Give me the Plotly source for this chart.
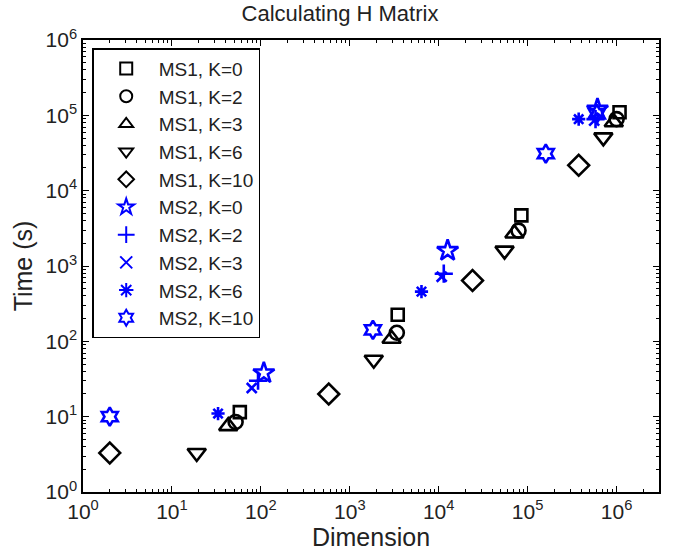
import plotly.graph_objects as go
import numpy as np

# ---- data ----
ms1_k0_x = [58, 3460, 85000, 1.08e6]
ms1_k0_y = [11.5, 225, 4700, 110000]
ms1_k2_x = [52, 3380, 79000, 1.0e6]
ms1_k2_y = [8.5, 130, 2950, 89000]
ms1_k3_x = [43, 2950, 71000, 930000]
ms1_k3_y = [7.5, 108, 2700, 81000]
ms1_k6_x = [19, 1860, 55000, 710000]
ms1_k6_y = [3.3, 57, 1600, 51000]
ms1_k10_x = [2, 580, 24000, 375000]
ms1_k10_y = [3.3, 20, 640, 21700]
ms2_k0_x = [108, 12600, 610000]
ms2_k0_y = [38, 1600, 120000]
ms2_k2_x = [93, 11400, 580000]
ms2_k2_y = [30, 790, 89000]
ms2_k3_x = [79, 10800, 560000]
ms2_k3_y = [24, 720, 85000]
ms2_k6_x = [33, 6400, 375000]
ms2_k6_y = [11, 457, 89000]
ms2_k10_x = [2, 1820, 160000, 600000]
ms2_k10_y = [10, 142, 31000, 105000]

series = [
    ("MS1, K=0", ms1_k0_x, ms1_k0_y, "square-open", "black", 12),
    ("MS1, K=2", ms1_k2_x, ms1_k2_y, "circle-open", "black", 14),
    ("MS1, K=3", ms1_k3_x, ms1_k3_y, "triangle-up-open", "black", 16),
    ("MS1, K=6", ms1_k6_x, ms1_k6_y, "triangle-down-open", "black", 16),
    ("MS1, K=10", ms1_k10_x, ms1_k10_y, "diamond-open", "black", 16),
    ("MS2, K=0", ms2_k0_x, ms2_k0_y, "star-open", "blue", 16),
    ("MS2, K=2", ms2_k2_x, ms2_k2_y, "cross-thin-open", "blue", 13),
    ("MS2, K=3", ms2_k3_x, ms2_k3_y, "x-thin-open", "blue", 10),
    ("MS2, K=6", ms2_k6_x, ms2_k6_y, "asterisk-open", "blue", 11),
    ("MS2, K=10", ms2_k10_x, ms2_k10_y, "hexagram-open", "blue", 14),
]

FONT = "Liberation Sans, Arial, sans-serif"

fig = go.Figure()
for name, x, y, sym, col, sz in series:
    fig.add_trace(go.Scatter(
        x=x, y=y, mode="markers", name=name,
        marker=dict(symbol=sym, size=sz, color=col,
                    line=dict(color=col, width=2.6)),
    ))

major = [10 ** k for k in range(0, 7)]
major_txt = ["10<sup>%d</sup>" % k for k in range(0, 7)]
minor_x = [m * 10 ** k for k in range(0, 7) for m in range(2, 10) if m * 10 ** k < 3e6]
minor_y = [m * 10 ** k for k in range(0, 6) for m in range(2, 10)]

axis_common = dict(
    type="log", showgrid=False, zeroline=False, automargin=False,
    showline=True, linecolor="black", linewidth=1.5, mirror="ticks",
    ticks="inside", ticklen=6, tickwidth=1, tickcolor="black",
    tickmode="array", tickvals=major, ticktext=major_txt,
)

fig.update_xaxes(
    **axis_common,
    range=[0, np.log10(3e6)],
    tickfont=dict(size=21, color="#222", family=FONT),
    minor=dict(ticks="inside", ticklen=3, tickcolor="black", tickmode="array", tickvals=minor_x),
    title=dict(text="Dimension", font=dict(size=25, color="#222", family=FONT), standoff=7),
)
fig.update_yaxes(
    **axis_common,
    range=[0, 6],
    tickfont=dict(size=21, color="#222", family=FONT),
    minor=dict(ticks="inside", ticklen=3, tickcolor="black", tickmode="array", tickvals=minor_y),
    title=dict(text="Time (s)", font=dict(size=25, color="#222", family=FONT), standoff=6),
)

fig.update_layout(
    width=680, height=559,
    margin=dict(l=83, r=21, t=40, b=67),
    paper_bgcolor="white", plot_bgcolor="white",
    font=dict(family=FONT, color="#222", size=20),
    title=dict(text="Calculating H Matrix", x=0.5, xanchor="center", y=1 - 13 / 559, yanchor="middle",
               font=dict(size=22, color="#222", family=FONT)),
    legend=dict(x=0.016, y=0.982, xanchor="left", yanchor="top",
                bgcolor="white", bordercolor="black", borderwidth=1.5,
                font=dict(size=19, color="#222", family=FONT), itemsizing="constant",
                itemwidth=55, tracegroupgap=0),
    showlegend=True,
)

fig.write_html("out.html",
               config={"displayModeBar": False},
               post_script="document.body.style.margin='0';document.body.style.overflow='hidden';")
